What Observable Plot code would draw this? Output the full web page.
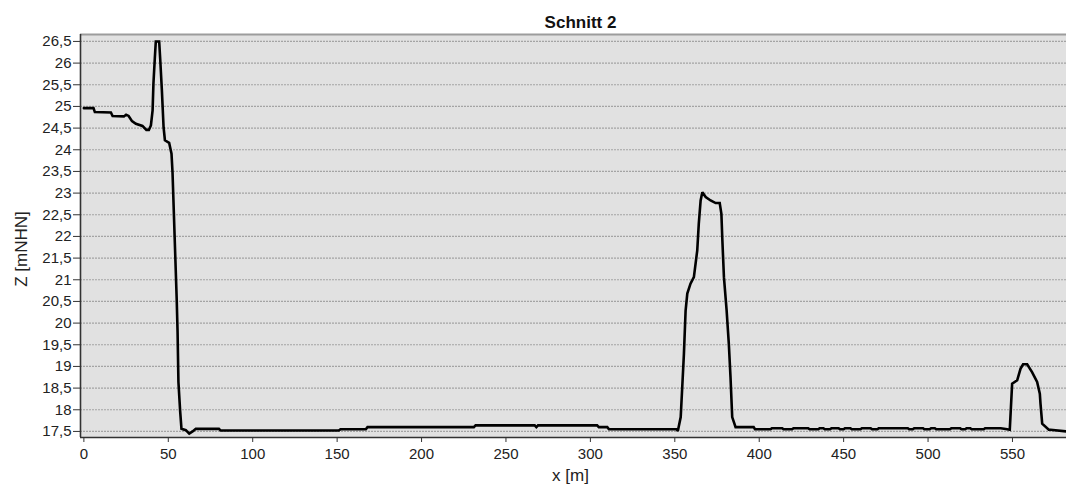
<!DOCTYPE html>
<html>
<head>
<meta charset="utf-8">
<script src="https://cdn.jsdelivr.net/npm/d3@7"></script>
<script src="https://cdn.jsdelivr.net/npm/@observablehq/plot@0.6"></script>
<style>
  html, body { margin: 0; padding: 0; background: #fff; }
</style>
</head>
<body>
<div id="chart"></div>
<script>
const title = "Schnitt 2";
const xLabel = "x [m]";
const yLabel = "Z [mNHN]";
const xTicks = [0, 50, 100, 150, 200, 250, 300, 350, 400, 450, 500, 550];
const yTicks = [17.5, 18, 18.5, 19, 19.5, 20, 20.5, 21, 21.5, 22, 22.5, 23, 23.5, 24, 24.5, 25, 25.5, 26, 26.5];
const xDomain = [-2, 582];
const yDomain = [17.36, 26.66];

const xs = [0, 5.7, 6.5, 16, 17, 23.7, 25, 26.5, 28.5, 30.8, 34.7, 37, 38.5, 39.7, 40.7, 41.2, 42, 42.6, 44.6, 45.2, 46.2, 47.2, 48, 50.5, 51.9, 52.5, 55, 55.5, 56, 57, 57.8, 60.4, 62.4, 64.4, 66.3, 80, 81, 151, 152, 167, 168, 231, 232, 267, 268, 269, 304, 305, 310, 311, 351, 351.8, 353.5, 354.4, 355.4, 356.4, 357.4, 359.3, 361.3, 363.3, 364.2, 365.3, 366.3, 368.3, 371.2, 374.2, 376.6, 377.6, 378.1, 379.1, 380.7, 382, 383, 384, 386, 396.7, 397.5, 406.7, 407.5, 413.6, 414.4, 419.5, 420.3, 429, 429.8, 435, 435.8, 438, 438.8, 442, 442.8, 447, 447.8, 450, 450.8, 454, 454.8, 460, 460.8, 466, 466.8, 470, 470.8, 488, 488.8, 491, 491.8, 497, 497.8, 501, 501.8, 504, 504.8, 513, 513.8, 519, 519.8, 522, 522.8, 525, 525.8, 533, 533.8, 543, 546, 548.4, 549.8, 552.8, 554.8, 556.3, 558.7, 561.6, 564.6, 566.2, 566.6, 567.6, 571.5, 572.5, 582];
const zs = [24.96, 24.96, 24.87, 24.86, 24.78, 24.77, 24.81, 24.78, 24.66, 24.6, 24.55, 24.46, 24.46, 24.56, 24.91, 25.53, 26.1, 26.5, 26.5, 26.1, 25.37, 24.52, 24.22, 24.16, 23.91, 23.48, 20.52, 19.79, 18.64, 17.98, 17.56, 17.53, 17.45, 17.5, 17.56, 17.56, 17.52, 17.52, 17.55, 17.55, 17.6, 17.6, 17.64, 17.64, 17.6, 17.64, 17.64, 17.6, 17.6, 17.55, 17.55, 17.51, 17.83, 18.52, 19.29, 20.29, 20.68, 20.91, 21.06, 21.68, 22.29, 22.83, 23.02, 22.91, 22.83, 22.77, 22.77, 22.52, 21.98, 21.06, 20.29, 19.52, 18.75, 17.83, 17.6, 17.6, 17.55, 17.55, 17.575, 17.575, 17.55, 17.55, 17.575, 17.575, 17.55, 17.55, 17.575, 17.575, 17.55, 17.55, 17.575, 17.575, 17.55, 17.55, 17.575, 17.575, 17.55, 17.55, 17.575, 17.575, 17.55, 17.55, 17.575, 17.575, 17.55, 17.55, 17.575, 17.575, 17.55, 17.55, 17.575, 17.575, 17.55, 17.55, 17.575, 17.575, 17.55, 17.55, 17.575, 17.575, 17.55, 17.55, 17.575, 17.575, 17.555, 17.54, 18.6, 18.68, 18.95, 19.05, 19.05, 18.87, 18.64, 18.37, 18.14, 17.68, 17.54, 17.54, 17.5, 17.5];

const data = xs.map((x, i) => ({x, z: zs[i]}));
const fmt = d => String(d).replace(".", ",");
const font = "'Liberation Sans', Arial, sans-serif";

const chart = Plot.plot({
  width: 1066,
  height: 491,
  marginTop: 34,
  marginLeft: 80,
  marginRight: 0,
  marginBottom: 54,
  style: {fontFamily: font, fontSize: "15px", color: "#222", background: "#fff", overflow: "visible"},
  x: {domain: xDomain},
  y: {domain: yDomain},
  marks: [
    Plot.frame({fill: "#e1e1e1", stroke: "none"}),
    Plot.gridY(yTicks, {stroke: "#a4a4a4", strokeOpacity: 1, strokeDasharray: "2,1", strokeWidth: 1.2}),
    Plot.ruleY([yDomain[1]], {stroke: "#9c9c9c", strokeWidth: 2}),
    Plot.ruleX([xDomain[0]], {stroke: "#333", strokeWidth: 1.6}),
    Plot.ruleY([yDomain[0]], {stroke: "#333", strokeWidth: 1.6}),
    Plot.axisX(xTicks, {tickSize: 5, tickPadding: 6, label: null, stroke: "#333", fill: "#222", fontSize: 15}),
    Plot.axisY(yTicks, {tickSize: 7, tickPadding: 2, label: null, tickFormat: fmt, stroke: "#333", fill: "#222", fontSize: 15}),
    Plot.line(data, {x: "x", y: "z", stroke: "#000", strokeWidth: 2.6, strokeLinejoin: "miter", strokeMiterlimit: 2}),
    Plot.text([title], {frameAnchor: "top", dx: 7, dy: -19, text: d => d, fontWeight: "bold", fontSize: 17, fill: "#111"}),
    Plot.text([xLabel], {frameAnchor: "bottom", dx: -3, dy: 43, text: d => d, fontSize: 17, fill: "#222"}),
    Plot.text([yLabel], {frameAnchor: "left", textAnchor: "middle", dx: -59, dy: 13, text: d => d, rotate: -90, fontSize: 17, fill: "#222"})
  ]
});
document.getElementById("chart").appendChild(chart);
</script>
</body>
</html>
